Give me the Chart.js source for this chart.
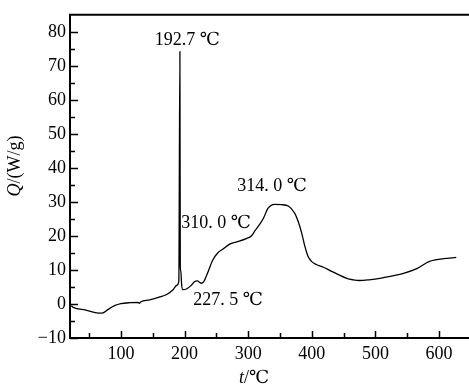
<!DOCTYPE html>
<html>
<head>
<meta charset="utf-8">
<script src="https://cdn.jsdelivr.net/npm/chart.js@4/dist/chart.umd.min.js"></script>
<style>
  html, body { margin: 0; padding: 0; background: #fff; overflow: hidden; }
</style>
</head>
<body>
<canvas id="dscChart" width="469" height="388"></canvas>
<script>
// DSC curve, temperature in degC and heat flow in W/g
var tempC = [22, 25, 45, 65, 72, 80, 90, 100, 115, 127, 129, 131, 145, 160, 172, 182, 188, 191,
  192.7, 193.3, 194, 195.5, 197.3, 203, 210, 216, 220, 226, 230, 236, 244, 252, 260, 271, 281,
  297, 305, 311, 318, 324, 331, 342, 352, 363, 373, 379, 384, 389, 394, 399, 407, 418, 428, 440, 455, 465, 475,
  490, 507, 525, 544, 565, 585, 607, 627];
var heatFlow = [-0.5, -1.0, -1.8, -2.7, -2.6, -1.6, -0.5, 0.1, 0.4, 0.5, 0.2, 0.6, 1.2, 2.0, 2.8, 4.2, 5.5, 6.8,
  74.2, 11, 9.8, 5.5, 4.2, 4.4, 5.4, 6.6, 6.8, 6.1, 6.5, 9.0, 12.8, 15.0, 16.1, 17.6, 18.2,
  19.2, 20.0, 21.6, 23.4, 25.2, 28.1, 29.3, 29.2, 28.8, 26.7, 24.0, 20.9, 17.0, 14.0, 12.6, 11.6, 10.8, 9.9, 8.8, 7.5, 7.1, 6.9,
  7.1, 7.5, 8.2, 9.0, 10.4, 12.5, 13.3, 13.7];

var yTicks = [-10, 0, 10, 20, 30, 40, 50, 60, 70, 80];
var xTicks = [100, 200, 300, 400, 500, 600];

var peakLabels = ['192.7 ℃', '310. 0 ℃', '314. 0 ℃', '227. 5 ℃'];
var peakLabelX = [204.5, 195, 282.8, 213.6];
var peakLabelY = [77.6, 23.6, 34.6, 1.2];
var peakLabelAlign = ['center', 'left', 'left', 'left'];

var serif = "'Liberation Serif', 'DejaVu Serif', 'Noto Sans CJK SC', serif";

var points = tempC.map(function (t, i) { return { x: t, y: heatFlow[i] }; });

// inward ticks, top frame line, annotations and axis titles
var decorations = {
  id: 'decorations',
  afterDraw: function (chart) {
    var ctx = chart.ctx;
    var area = chart.chartArea;
    var xs = chart.scales.x;
    var ys = chart.scales.y;
    ctx.save();
    ctx.strokeStyle = '#000';
    ctx.lineWidth = 2;
    ctx.beginPath();
    ctx.moveTo(area.left - 1, area.top);
    ctx.lineTo(chart.width, area.top);
    ctx.stroke();

    ctx.lineWidth = 1.5;
    ctx.beginPath();
    for (var v = 50; v <= xs.max; v += 50) {
      if (v < xs.min) continue;
      var px = Math.round(xs.getPixelForValue(v)) + 0.5;
      var len = (v % 100 === 0) ? 7 : 5;
      ctx.moveTo(px, area.bottom);
      ctx.lineTo(px, area.bottom - len);
    }
    for (var w = -10; w <= 80; w += 5) {
      var py = Math.round(ys.getPixelForValue(w)) + 0.5;
      var l2 = (w % 10 === 0) ? 8 : 5;
      ctx.moveTo(area.left, py);
      ctx.lineTo(area.left + l2, py);
    }
    ctx.stroke();

    ctx.fillStyle = '#000';
    ctx.font = '18px ' + serif;
    ctx.textBaseline = 'middle';
    for (var i = 0; i < peakLabels.length; i++) {
      ctx.textAlign = peakLabelAlign[i];
      ctx.fillText(peakLabels[i], xs.getPixelForValue(peakLabelX[i]), ys.getPixelForValue(peakLabelY[i]));
    }

    // x title: italic t then /℃
    ctx.textAlign = 'left';
    ctx.font = 'italic 18px ' + serif;
    var tW = ctx.measureText('t').width;
    ctx.font = '18px ' + serif;
    var restW = ctx.measureText('/℃').width;
    var startX = 254 - (tW + restW) / 2;
    ctx.font = 'italic 18px ' + serif;
    ctx.fillText('t', startX, 378);
    ctx.font = '18px ' + serif;
    ctx.fillText('/℃', startX + tW, 378);

    // y title rotated: italic Q then /(W/g)
    ctx.translate(15, 166);
    ctx.rotate(-Math.PI / 2);
    ctx.font = 'italic 18px ' + serif;
    var qW = ctx.measureText('Q').width;
    ctx.font = '18px ' + serif;
    var unitW = ctx.measureText('/(W/g)').width;
    var sx = -(qW + unitW) / 2;
    ctx.font = 'italic 18px ' + serif;
    ctx.fillText('Q', sx, 0);
    ctx.font = '18px ' + serif;
    ctx.fillText('/(W/g)', sx + qW, 0);
    ctx.restore();
  }
};

var chart = new Chart(document.getElementById('dscChart').getContext('2d'), {
  type: 'line',
  data: {
    datasets: [{
      data: points,
      borderColor: '#000',
      borderWidth: 1.3,
      pointRadius: 0,
      fill: false,
      tension: 0.3,
      cubicInterpolationMode: 'monotone'
    }]
  },
  options: {
    responsive: false,
    animation: false,
    layout: { padding: { top: 7, right: 0, bottom: 0, left: 0 } },
    plugins: {
      legend: { display: false },
      tooltip: { enabled: false }
    },
    scales: {
      x: {
        type: 'linear',
        min: 20,
        max: 647,
        afterFit: function (scale) { scale.height = 50; },
        afterBuildTicks: function (scale) {
          scale.ticks = xTicks.map(function (v) { return { value: v }; });
        },
        grid: { display: false, drawTicks: false },
        border: { display: true, color: '#000', width: 2 },
        ticks: {
          color: '#000',
          padding: 5,
          maxRotation: 0,
          font: { family: serif, size: 18 }
        }
      },
      y: {
        type: 'linear',
        min: -10,
        max: 85,
        afterFit: function (scale) { scale.width = 70; },
        afterBuildTicks: function (scale) {
          scale.ticks = yTicks.map(function (v) { return { value: v }; });
        },
        grid: { display: false, drawTicks: false },
        border: { display: true, color: '#000', width: 2 },
        ticks: {
          color: '#000',
          padding: 4,
          font: { family: serif, size: 18 },
          callback: function (value) { return String(value).replace('-', '−'); }
        }
      }
    }
  },
  plugins: [decorations]
});
</script>
</body>
</html>
